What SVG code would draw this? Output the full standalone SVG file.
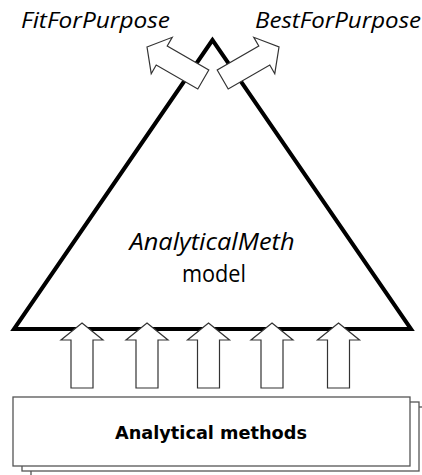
<svg xmlns="http://www.w3.org/2000/svg" width="422" height="475" viewBox="0 0 422 475">
<style>
.arrow{fill:#fff;stroke:#333;stroke-width:1.2;stroke-linejoin:miter}
.box{fill:#fff;stroke:#555;stroke-width:1.3}
.it{font-family:"Open Sans","Noto Sans",sans-serif;font-style:italic;fill:#000}
.reg{font-family:"Open Sans","Noto Sans",sans-serif;fill:#000}
.bold{font-family:"DejaVu Sans",Verdana,sans-serif;font-weight:bold;fill:#000}
</style>
<defs>
<path id="arr" d="M0,0 L21,17 L11,17 L11,65 L-11,65 L-11,17 L-21,17 Z"/>
</defs>
<g id="model">
<polygon points="212.5,40 14,329 411,329" fill="#fff" stroke="#000" stroke-width="4" stroke-linejoin="miter"/>
<text class="it" x="212" y="250" font-size="24" text-anchor="middle" textLength="165" lengthAdjust="spacingAndGlyphs">AnalyticalMeth</text>
<text class="reg" x="214" y="282" font-size="24" text-anchor="middle" textLength="64" lengthAdjust="spacingAndGlyphs">model</text>
</g>
<g id="fit">
<text class="it" x="21" y="28" font-size="22" textLength="149" lengthAdjust="spacingAndGlyphs">FitForPurpose</text>
</g>
<g id="best">
<text class="it" x="255" y="28" font-size="22" textLength="166" lengthAdjust="spacingAndGlyphs">BestForPurpose</text>
</g>
<g id="methods">
<rect class="box" x="31" y="407" width="400" height="70"/>
<rect class="box" x="22" y="402" width="397" height="69"/>
<rect class="box" x="13" y="397" width="397" height="69"/>
<text class="bold" x="211" y="439" font-size="18" text-anchor="middle" textLength="192" lengthAdjust="spacingAndGlyphs">Analytical methods</text>
</g>
<g id="connectors">
<use href="#arr" class="arrow" transform="translate(147,47) rotate(-60)"/>
<use href="#arr" class="arrow" transform="translate(279,47) rotate(60)"/>
<use href="#arr" class="arrow" transform="translate(82,323)"/>
<use href="#arr" class="arrow" transform="translate(147,323)"/>
<use href="#arr" class="arrow" transform="translate(208.5,323)"/>
<use href="#arr" class="arrow" transform="translate(272,323)"/>
<use href="#arr" class="arrow" transform="translate(338.5,323)"/>
</g>
</svg>
